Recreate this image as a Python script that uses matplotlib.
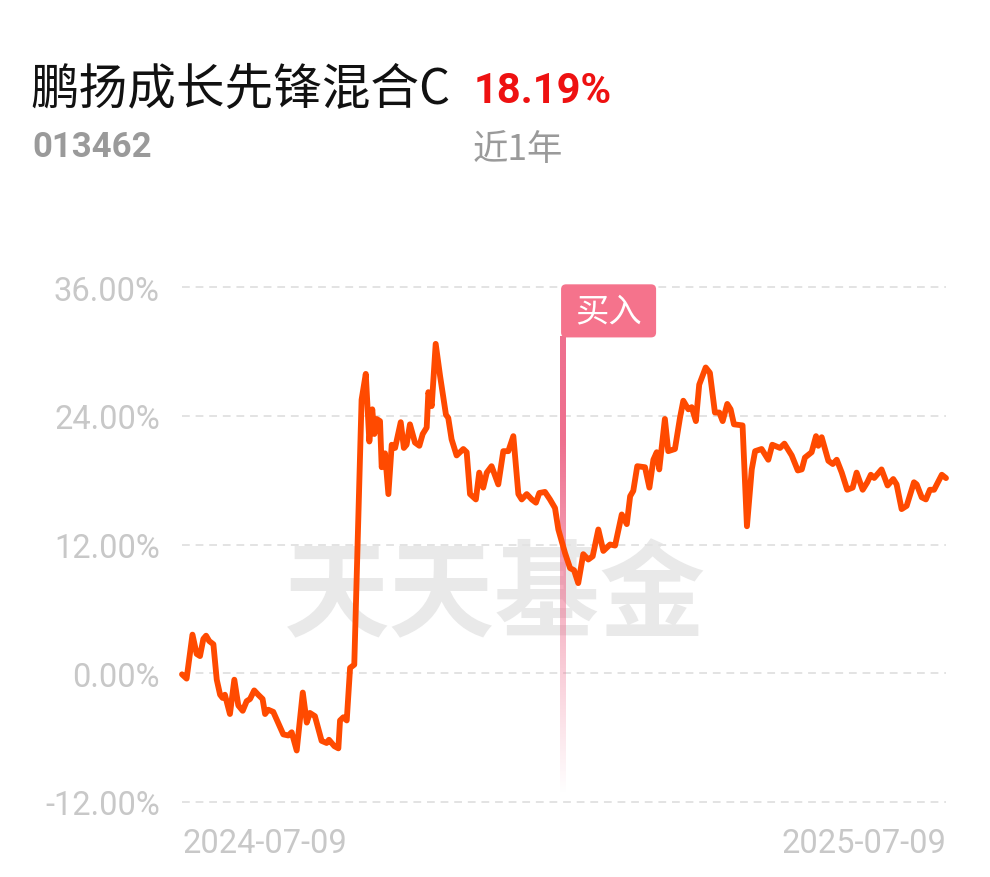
import numpy as np
import matplotlib
matplotlib.use("Agg")
import matplotlib.pyplot as plt
from matplotlib.colors import to_rgb
from matplotlib.patches import FancyBboxPatch

plt.rcParams["font.family"] = ["Noto Sans CJK SC", "DejaVu Sans"]

fund_name = "鹏扬成长先锋混合C"
fund_code = "013462"
period_return = "18.19%"
period_label = "近1年"
buy_label = "买入"
watermark = "天天基金"

# days since 2024-07-09, cumulative return in %
day_offsets = [
    0, 2.2, 5.0, 7.0, 8.6, 10.2, 11.5, 13.0, 15.0, 16.6,
    18.2, 19.4, 20.5, 22.9, 25.0, 26.9, 29.0, 30.9, 32.5, 34.5,
    36.4, 38.5, 39.7, 41.2, 43.6, 45.2, 48.4, 50.8, 52.4, 54.8,
    57.7, 59.6, 61.1, 63.5, 66.7, 69.1, 70.2, 72.8, 74.7, 75.5,
    77.1, 78.7, 80.3, 82.3, 85.8, 87.8, 89.5, 90.9, 91.9, 93.0,
    94.6, 95.4, 97.0, 98.6, 100.2, 101.8, 104.5, 106.0, 107.3, 108.9,
    111.3, 113.4, 115.0, 116.9, 117.7, 119.3, 121.2, 123.3, 126.1, 127.2,
    128.8, 131.2, 132.8, 134.4, 136.0, 137.6, 140.4, 142.0, 143.9, 145.6,
    147.9, 151.1, 153.5, 155.9, 158.3, 160.7, 162.3, 164.7, 167.1, 169.1,
    170.7, 173.4, 175.8, 178.2, 179.8, 183.0, 185.4, 187.3, 189.3, 191.7,
    194.1, 196.2, 198.9, 201.3, 204.5, 206.9, 210.1, 212.5, 214.1, 215.6,
    217.5, 221.2, 223.3, 225.2, 226.8, 228.0, 230.7, 232.3, 235.5, 237.9,
    239.5, 241.9, 243.5, 245.5, 247.1, 250.2, 252.2, 254.6, 256.7, 258.3,
    260.5, 262.1, 263.7, 267.8, 269.9, 272.2, 273.8, 276.9, 280.1, 282.0,
    285.7, 287.8, 291.3, 294.2, 296.1, 297.6, 300.8, 302.9, 304.0, 305.6,
    308.8, 310.9, 312.8, 315.2, 317.8, 320.4, 322.3, 325.2, 327.4, 329.1,
    330.7, 334.2, 337.1, 339.8, 341.4, 343.8, 346.2, 349.7, 351.0, 353.4,
    355.4, 357.3, 359.3, 363.0, 365.0,
]
returns_pct = [
    -0.1, -0.5, 3.6, 1.8, 1.6, 3.2, 3.5, 3.0, 2.7, -0.6,
    -2.0, -2.3, -2.0, -3.8, -0.6, -3.0, -3.5, -2.6, -2.4, -1.6,
    -2.0, -2.4, -3.8, -3.4, -3.6, -4.3, -5.7, -5.8, -5.5, -7.2,
    -1.8, -4.6, -3.7, -4.0, -6.3, -6.5, -6.2, -6.8, -7.0, -4.4,
    -4.1, -4.4, 0.5, 0.8, 25.5, 27.9, 21.6, 24.6, 22.3, 23.7,
    23.5, 19.2, 20.5, 16.7, 21.3, 21.0, 23.4, 21.0, 21.3, 23.2,
    21.5, 21.2, 22.3, 22.9, 26.2, 24.9, 30.7, 27.7, 24.1, 23.8,
    21.8, 20.3, 20.6, 20.9, 20.6, 16.7, 16.2, 18.7, 17.3, 18.7,
    19.3, 17.6, 20.7, 20.7, 22.1, 16.7, 16.2, 16.7, 16.2, 15.9,
    16.8, 16.9, 16.2, 15.4, 13.4, 11.2, 9.8, 9.6, 8.4, 11.1,
    10.6, 10.9, 13.4, 11.4, 12.0, 11.9, 14.8, 13.9, 16.5, 17.0,
    19.3, 19.2, 17.3, 19.9, 20.6, 19.0, 23.7, 20.7, 20.9, 23.8,
    25.4, 24.6, 24.8, 23.5, 26.9, 28.5, 28.0, 24.3, 24.3, 23.5,
    25.1, 24.6, 23.2, 23.1, 13.7, 19.0, 20.7, 20.9, 19.9, 21.3,
    21.0, 21.4, 20.3, 18.9, 19.0, 20.1, 20.6, 22.1, 21.2, 22.0,
    19.8, 19.5, 19.9, 18.7, 17.1, 17.3, 18.7, 17.1, 17.8, 18.5,
    18.2, 19.0, 17.5, 18.1, 17.6, 15.3, 15.6, 17.8, 17.6, 16.4,
    16.2, 17.1, 17.1, 18.5, 18.19,
]
buy_day = 182
y_ticks = [-12, 0, 12, 24, 36]
x_tick_days = [0, 365]
x_labels = ["2024-07-09", "2025-07-09"]

line_color = "#FF4A00"
pink = "#F5738C"
label_gray = "#c8c8c8"

fig = plt.figure(figsize=(9.9, 8.78), dpi=100)
ax = fig.add_axes([182 / 990, 1 - 803 / 878, 764 / 990, 515 / 878])
ax.set_xlim(0, 365)
ax.set_ylim(-12, 36)
for s in ax.spines.values():
    s.set_visible(False)

for t in y_ticks:
    ax.axhline(t, color="#e3e3e3", lw=1.4, dashes=(4, 3), zorder=1, clip_on=False)

ax.text(0.41, 0.397, watermark, transform=ax.transAxes, fontsize=76,
        weight="bold", color="#e9e9e9", ha="center", va="center", zorder=0.5)

# buy marker: fading vertical bar + label box
grad = np.zeros((256, 1, 4))
grad[..., :3] = to_rgb("#EE6F8E")
grad[:, 0, 3] = np.clip(np.linspace(1.0, 0.0, 256) * 1.3, 0, 1)
ax.imshow(grad, extent=[buy_day - 1.3, buy_day + 1.3, -11.3, 31.3],
          aspect="auto", origin="upper", zorder=2)
box = FancyBboxPatch((buy_day - 0.9, 31.3), 45.4, 4.95,
                     boxstyle="round,pad=0,rounding_size=2.4",
                     mutation_aspect=0.195, fc=pink, ec="none",
                     clip_on=False, zorder=4)
ax.add_patch(box)
ax.text(buy_day - 0.9 + 22.7, 33.75, buy_label, color="white", fontsize=24,
        ha="center", va="center", zorder=5)

ax.plot(day_offsets, returns_pct, color=line_color, lw=4.2,
        solid_joinstyle="round", solid_capstyle="round", zorder=3, clip_on=False)

ax.set_xlim(0, 365)
ax.set_ylim(-12, 36)
ax.set_yticks(y_ticks, [f"{t:.2f}%" for t in y_ticks])
ax.set_xticks(x_tick_days, x_labels)
ax.tick_params(axis="y", length=0, pad=16, labelsize=23.5, labelcolor=label_gray)
ax.tick_params(axis="x", length=0, pad=18, labelsize=23.5, labelcolor=label_gray)
for lbl in ax.get_yticklabels() + ax.get_xticklabels():
    lbl.set_fontfamily("Roboto")
xl = ax.get_xticklabels()
xl[0].set_ha("left")
xl[-1].set_ha("right")

fig.text(30 / 990, 1 - 104 / 878, fund_name, fontsize=35, color="#111111",
         va="baseline")
fig.text(474 / 990, 1 - 103 / 878, period_return, family="Roboto",
         fontweight="bold", fontsize=30, color="#EE1111", va="baseline")
fig.text(32 / 990, 1 - 157 / 878, fund_code, family="Roboto",
         fontweight="bold", fontsize=25, color="#9a9a9a", va="baseline")
fig.text(473 / 990, 1 - 160 / 878, period_label, fontsize=25.5, color="#9a9a9a",
         va="baseline")

fig.savefig("out.png", dpi=100)
